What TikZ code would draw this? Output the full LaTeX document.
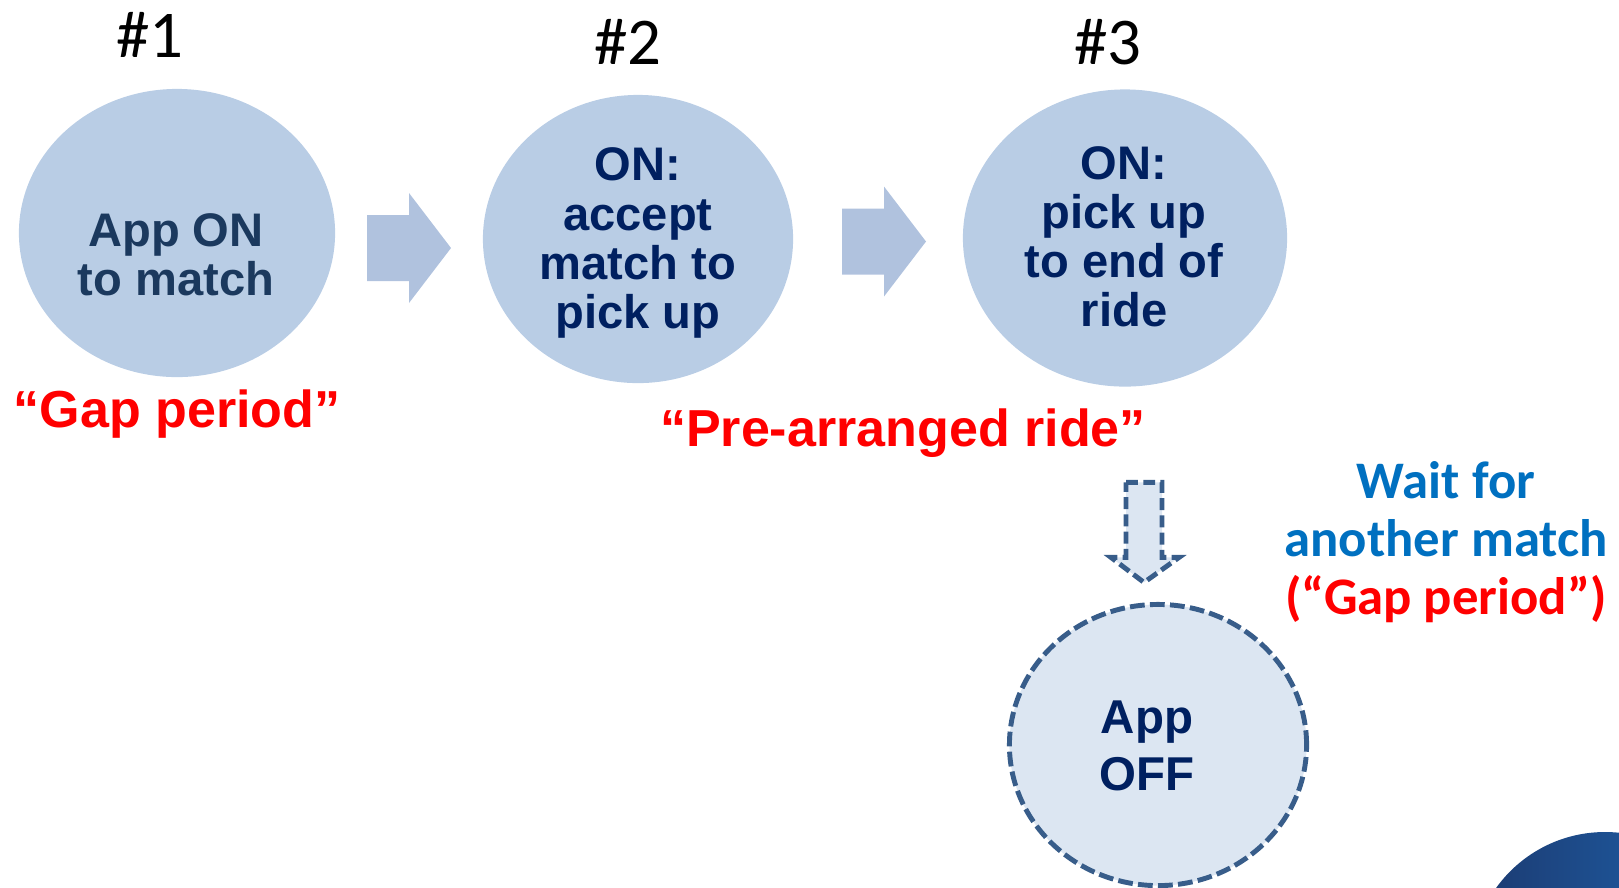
\documentclass[tikz,border=0pt]{standalone}
\usepackage{fontspec}
\setmainfont{Liberation Sans}
\newfontfamily\calibri{Carlito}
\usepackage{tikz}
\usetikzlibrary{shapes.geometric,positioning,calc}

\definecolor{stagefill}{RGB}{185,205,229}
\definecolor{flowfill}{RGB}{176,194,222}
\definecolor{offfill}{RGB}{220,230,242}
\definecolor{offline}{RGB}{56,93,138}
\definecolor{navy}{RGB}{0,32,96}
\definecolor{darknavy}{RGB}{27,57,94}
\definecolor{waitblue}{RGB}{0,112,192}
\definecolor{gapred}{RGB}{255,0,0}
\definecolor{cornerdark}{RGB}{28,58,112}
\definecolor{cornerlight}{RGB}{30,100,175}

\tikzset{
  stage/.style={ellipse, fill=stagefill, inner sep=0pt, outer sep=0pt},
  offstage/.style={ellipse, fill=offfill, draw=offline, line width=1.4pt,
    dash pattern=on 4.2pt off 1.5pt, inner sep=0pt, outer sep=0pt},
  stagetext/.style={align=center, text=navy, inner sep=0pt,
    font=\bfseries\fontsize{13.4}{13.95}\selectfont},
  num/.style={inner sep=0pt, font=\calibri\fontsize{19}{22}\selectfont},
  quote/.style={inner sep=0pt, text=gapred, font=\bfseries\fontsize{14.8}{17}\selectfont},
  note/.style={align=center, inner sep=0pt, text=waitblue,
    font=\calibri\bfseries\fontsize{15}{16.6}\selectfont},
  flow/.style={fill=flowfill},
  offflow/.style={fill=offfill, draw=offline, line width=1.4pt,
    dash pattern=on 3.4pt off 1.5pt}
}

\begin{document}
\begin{tikzpicture}[x=0.01cm, y=-0.01cm]
  \useasboundingbox (0,0) rectangle (1619,887);

  % corner decoration
  \begin{scope}
    \clip (0,0) rectangle (1619,887);
    \shade[left color=cornerdark, right color=cornerlight] (1605,966) circle[radius=134];
  \end{scope}

  % stages
  \node[stage, minimum width=3.16cm, minimum height=2.88cm] (s1) at (177,233) {};
  \node[stage, minimum width=3.10cm, minimum height=2.88cm] (s2) at (638,239) {};
  \node[stage, minimum width=3.24cm, minimum height=2.97cm] (s3) at (1125,238) {};
  \node[offstage, minimum width=2.97cm, minimum height=2.81cm] (off) at (1158,745) {};

  \node[stagetext, text=darknavy] (t1) at ($(s1)+(-1,22)$) {App ON\\to match};
  \node[stagetext] (t2) at ($(s2)+(0,4)$) {ON:\\accept\\match to\\pick up};
  \node[stagetext] (t3) at ($(s3)+(-1,-1)$) {ON:\\pick up\\to end of\\ride};
  \node[stagetext, font=\bfseries\fontsize{13.5}{16.2}\selectfont] (toff) at ($(off)+(-11,1)$) {App\\OFF};

  % numbers
  \node[num] (n1) at (150,35) {\#1};
  \node[num] (n2) at (628,42) {\#2};
  \node[num] (n3) at (1108,42) {\#3};

  % block arrows
  \coordinate (f1) at ($(s1.east)!0.5!(s2.west)+(0,12)$);
  \coordinate (f2) at ($(s2.east)!0.5!(s3.west)+(6,3)$);
  \foreach \f in {f1,f2}
    \fill[flow, shift={(\f)}] (-42,-33) -- (0,-33) -- (0,-55) -- (42,0)
      -- (0,55) -- (0,33) -- (-42,33) -- cycle;

  \coordinate (d1) at ($(off.north)+(-14,-122)$);
  \filldraw[offflow, shift={(d1)}] (-18,0) -- (18,0) -- (18,75) -- (35,75)
    -- (0,100) -- (-33,75) -- (-18,75) -- cycle;

  % labels
  \node[quote, below=0.12cm of s1] (gap) {“Gap period”};
  \node[quote] (ride) at (903,433) {“Pre-arranged ride”};
  \node[note] (wait) at (1446,542) {Wait for\\another match\\\textcolor{gapred}{(“Gap period”)}};
\end{tikzpicture}
\end{document}
